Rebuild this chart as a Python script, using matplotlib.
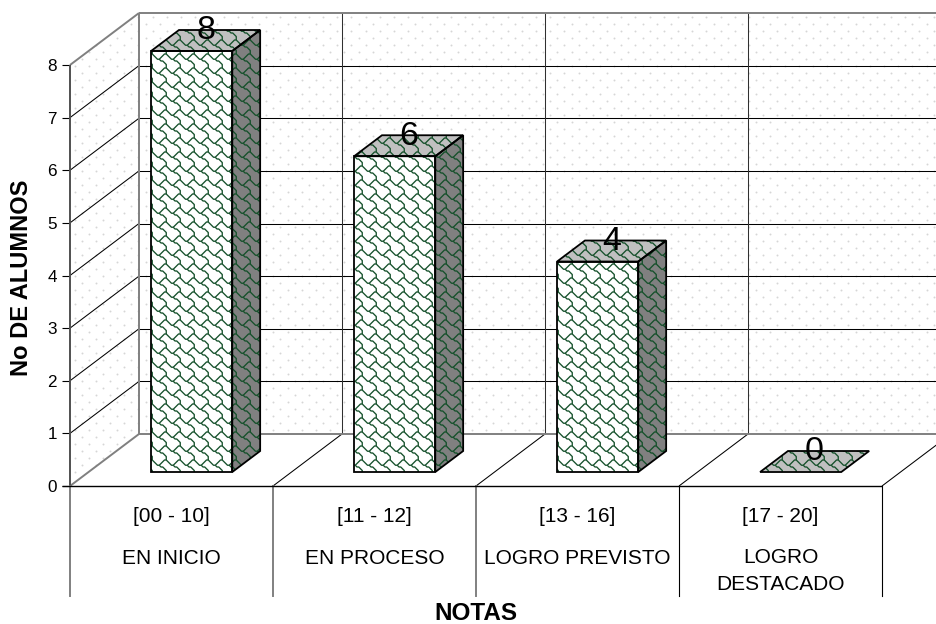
import numpy as np
import matplotlib
matplotlib.use("Agg")
from matplotlib import pyplot as plt
from matplotlib.collections import LineCollection
from matplotlib.patches import Polygon
from matplotlib.transforms import Affine2D

plt.rcParams['font.family'] = ['Liberation Sans', 'DejaVu Sans']

ranges = ['[00 - 10]', '[11 - 12]', '[13 - 16]', '[17 - 20]']
levels = ['EN INICIO', 'EN PROCESO', 'LOGRO PREVISTO', 'LOGRO\nDESTACADO']
alumnos = [8, 6, 4, 0]
yticks = list(range(9))

W, H = 937, 624
GRAY = '#808080'
GREEN = '#14502a'

# depth of the 3d box, in axis units (x categories, y students)
DX = 69 / 203
DY = 52 / 52.625
BAR_W = 0.4
BAR_SHIFT = 0.008
D0, D1 = 0.269, 0.673

fig = plt.figure(figsize=(W / 100, H / 100), dpi=100)
fig.patch.set_facecolor('white')
ax = fig.add_axes([70 / W, (H - 486) / H, 812 / W, 421 / H])
ax.set_xlim(0, 4)
ax.set_ylim(0, 8)
ax.patch.set_visible(False)
for s in ax.spines.values():
    s.set_visible(False)

# pixel coordinates with the origin top left, for the fill textures
px = Affine2D().scale(1, -1).translate(0, H)


def line(xs, ys, color='black', lw=0.75, z=2):
    ax.plot(xs, ys, color=color, lw=lw, clip_on=False, zorder=z, solid_capstyle='butt')


def back(x, y):
    return x + DX, y + DY


def clip_to(artist, patch):
    artist.set_clip_path(patch)
    artist.set_clip_box(None)


# walls
side_wall = Polygon([(0, 0), (0, 8), back(0, 8), back(0, 0)], closed=True,
                    fc='white', ec='none', clip_on=False, zorder=0)
back_wall = Polygon([back(0, 0), back(0, 8), back(4.2, 8), back(4.2, 0)], closed=True,
                    fc='white', ec='none', clip_on=False, zorder=0)
ax.add_patch(side_wall)
ax.add_patch(back_wall)

# dotted wall fill
dots_x, dots_y = [], []
for j, ry in enumerate(np.arange(3, 500, 7.0)):
    xs = np.arange(-3.6 + (j % 2) * 7.1, 960, 14.2)
    dots_x.extend(xs)
    dots_y.extend([ry] * len(xs))
for wall in (side_wall, back_wall):
    d = ax.scatter(dots_x, dots_y, s=2.0, color='#d6d6d6', linewidths=0, transform=px, zorder=0.5)
    clip_to(d, wall)

# grid on the walls and floor
for v in yticks[1:-1]:
    line([0, DX], [v, v + DY])
    line([DX, 4.2 + DX], [v + DY, v + DY])
for v in range(1, 4):
    line([v + DX, v + DX], [DY, 8 + DY], color='#303030')
for v in range(1, 5):
    line([v, v + DX], [0, DY])
line([0, DX], [0, DY], GRAY, 1.4)
line([0, DX], [8, 8 + DY], GRAY, 1.4)
line([DX, 4.2 + DX], [DY, DY], GRAY, 1.4)
line([DX, 4.2 + DX], [8 + DY, 8 + DY], GRAY, 1.4)
line([DX, DX], [DY, 8 + DY], GRAY, 1.4)
line([0, 0], [0, 8], '#505050', 1.4)

# category separators under the floor
for v, c, lw in zip(range(5), [GRAY, GRAY, GRAY, 'black', 'black'], [1.4, 1.4, 1.4, 0.8, 0.8]):
    ax.plot([v, v], [0, -110 / 52.625], color=c, lw=lw, clip_on=False, zorder=2)
line([-8 / 203, 4], [0, 0], 'black', 1.0, 3)

# shingle fill, screen aligned on every face
TILE = 14.0
cup = np.array([(-1, 0), (0, 1), (1, 2), (2, 3), (3, 3), (4, 2), (5, 1), (6, 0), (7, 0)], float)
tail = np.array([(3, 3), (4, 4), (5, 4), (6, 5), (7, 6), (7, 7), (7, 8)], float)
PHASE = (154.0, 54.0)
segs = []
for i in range(-1, 68):
    for j in range(-5, 42):
        base = np.array([PHASE[0] + (i - 11) * TILE, PHASE[1] + j * TILE])
        segs.append(base + cup * TILE / 8)
        segs.append(base + tail * TILE / 8)


def shingles(patch):
    lc = LineCollection(segs, colors=GREEN, linewidths=0.95, transform=px, zorder=4.5)
    ax.add_collection(lc, autolim=False)
    clip_to(lc, patch)


# bars
for i, v in enumerate(alumnos):
    x0 = i + (1 - BAR_W) / 2 + BAR_SHIFT
    x1 = x0 + BAR_W
    dx0, dy0 = DX * D0, DY * D0
    dx1, dy1 = DX * D1, DY * D1
    faces = [Polygon([(x0 + dx0, v + dy0), (x1 + dx0, v + dy0),
                      (x1 + dx1, v + dy1), (x0 + dx1, v + dy1)], closed=True,
                     fc='#c0c0c0', ec='none', clip_on=False, zorder=4)]
    if v > 0:
        faces.append(Polygon([(x0 + dx0, dy0), (x1 + dx0, dy0), (x1 + dx0, v + dy0), (x0 + dx0, v + dy0)],
                             closed=True, fc='white', ec='none', clip_on=False, zorder=4))
        faces.append(Polygon([(x1 + dx0, dy0), (x1 + dx1, dy1), (x1 + dx1, v + dy1), (x1 + dx0, v + dy0)],
                             closed=True, fc=GRAY, ec='none', clip_on=False, zorder=4))
    for face in faces:
        ax.add_patch(face)
        shingles(face)
        # outline above the fill
        ax.add_patch(Polygon(face.get_xy(), closed=True, fc='none', ec='black', lw=1.3,
                             clip_on=False, zorder=5))
    ax.annotate(str(v), (x0 + BAR_W / 2 + (dx0 + dx1) / 2, v + (dy0 + dy1) / 2),
                xytext=(0, 7), textcoords='offset points', ha='center', va='center',
                fontsize=24.5, color='black', zorder=6, annotation_clip=False)

# axis text
ax.set_xticks([])
ax.set_yticks(yticks)
ax.tick_params(axis='y', length=5.8, width=0.8, labelsize=12.3, pad=3.5)
for i in range(4):
    ax.text(i + 0.5, -30.5 / 52.625, ranges[i], ha='center', va='center', fontsize=15)
    ax.text(i + 0.5, -72 / 52.625 if i < 3 else -85 / 52.625, levels[i], ha='center', va='center',
            fontsize=15, linespacing=1.5)
fig.text(21.5 / W, 1 - 278 / H, 'No DE ALUMNOS', rotation=90, ha='center', va='center',
         fontsize=17, fontweight='bold')
fig.text(475.5 / W, 1 - 620 / H, 'NOTAS', ha='center', va='baseline', fontsize=17.5, fontweight='bold')

fig.savefig('out.png', dpi=100)
